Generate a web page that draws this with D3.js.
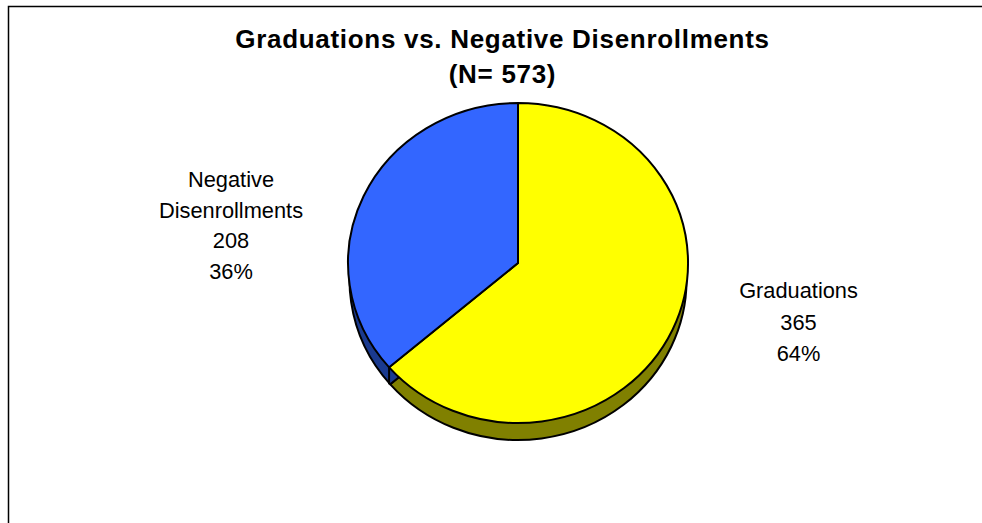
<!DOCTYPE html>
<html>
<head>
<meta charset="utf-8">
<script src="https://cdn.jsdelivr.net/npm/d3@7"></script>
<style>
html,body{margin:0;padding:0;background:#fff}
svg{display:block}
text{font-family:"Liberation Sans",Arial,sans-serif;fill:#000}
</style>
</head>
<body>
<svg id="c" width="982" height="523"></svg>
<script>
const categories = ["Graduations", "Negative Disenrollments"];
const values = [365, 208];
const percents = ["64%", "36%"];
const topColors = ["#ffff00", "#3366ff"];
const sideColors = ["#808000", "#1a3a8f"];
const titleLines = ["Graduations vs. Negative Disenrollments", "(N= 573)"];
const labelLines = [
  ["Graduations", "365", "64%"],
  ["Negative", "Disenrollments", "208", "36%"]
];

const svg = d3.select("#c");
const W = 982, H = 523;
const cx = 518, cy = 263, rx = 170, ry = 160, sideRx = 168.5, depth = 17;

svg.append("path")
  .attr("d", `M8.5 ${H} V6.5 H${W}`)
  .attr("fill", "none").attr("stroke", "#000").attr("stroke-width", 1.5);

const pie = d3.pie().value(d => d).sort(null);
const arcs = pie(values);
const arc = d3.arc().innerRadius(0).outerRadius(1);
const sx = d3.scaleLinear().domain([0, 1]).range([0, rx]);
const sy = d3.scaleLinear().domain([0, 1]).range([0, ry]);

function wedge(sel, y, radiusX, colors) {
  sel.append("g")
    .attr("transform", `translate(${cx},${y}) scale(${radiusX},${sy(1)})`)
    .selectAll("path").data(arcs).join("path")
    .attr("d", arc)
    .attr("fill", (d, i) => colors[i])
    .attr("stroke", "#000")
    .attr("stroke-width", 2)
    .attr("stroke-linejoin", "round")
    .attr("vector-effect", "non-scaling-stroke");
}

wedge(svg, cy + depth, sideRx, sideColors);

// vertical edge between the two side faces
const a = arcs[0].endAngle;
const ex = cx + sx(Math.sin(a)), ey = cy - sy(Math.cos(a));
svg.append("line")
  .attr("x1", ex).attr("x2", ex).attr("y1", ey).attr("y2", ey + depth)
  .attr("stroke", "#000").attr("stroke-width", 2);

wedge(svg, cy, rx, topColors);

svg.append("g").selectAll("text").data(titleLines).join("text")
  .attr("x", 502.5).attr("y", (d, i) => 48 + i * 35)
  .attr("text-anchor", "middle")
  .attr("font-size", 26).attr("font-weight", "bold")
  .attr("letter-spacing", 0.7)
  .text(d => d);

const labelPos = [{x: 798.5, y: 298, dy: 31.5}, {x: 231, y: 187, dy: 30.7}];
labelLines.forEach((lines, k) => {
  svg.append("g").selectAll("text").data(lines).join("text")
    .attr("x", labelPos[k].x)
    .attr("y", (d, i) => labelPos[k].y + i * labelPos[k].dy)
    .attr("text-anchor", "middle")
    .attr("font-size", 21.8)
    .text(d => d);
});
</script>
</body>
</html>
